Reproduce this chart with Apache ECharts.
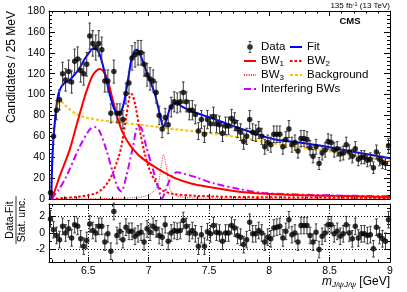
<!DOCTYPE html>
<html><head><meta charset="utf-8">
<script src="https://cdn.jsdelivr.net/npm/echarts@6/dist/echarts.min.js"></script>
<style>html,body{margin:0;padding:0;background:#fff}#c{width:407px;height:292px}</style>
</head><body><div id="c"></div>
<script>
// ---------- data ----------
const binLow = 6.175, binWidth = 0.025, massMax = 9.0;
const counts = [6,60,85,95,120,114,122,112,132,134,
123,120,129,156,149,145,149,143,113,113,
82,122,82,82,76,101,111,135,138,140,
140,129,119,115,113,102,80,67,78,71,
88,93,92,93,102,93,85,85,81,65,
76,62,76,72,79,72,71,63,70,70,
77,74,67,64,55,60,76,64,63,66,
60,50,54,52,62,62,62,50,57,67,
52,54,46,58,58,57,49,41,50,34,
44,47,55,54,47,48,43,44,52,45,
41,48,38,40,40,37,38,30,45,38,
35,34,51];
const countErr = [2.4,7.7,9.2,9.7,11.0,10.7,11.0,10.6,11.5,11.6,
11.1,11.0,11.4,12.5,12.2,12.0,12.2,12.0,10.6,10.6,
9.1,11.0,9.1,9.1,8.7,10.0,10.5,11.6,11.7,11.8,
11.8,11.4,10.9,10.7,10.6,10.1,8.9,8.2,8.8,8.4,
9.4,9.6,9.6,9.6,10.1,9.6,9.2,9.2,9.0,8.1,
8.7,7.9,8.7,8.5,8.9,8.5,8.4,7.9,8.4,8.4,
8.8,8.6,8.2,8.0,7.4,7.7,8.7,8.0,7.9,8.1,
7.7,7.1,7.3,7.2,7.9,7.9,7.9,7.1,7.5,8.2,
7.2,7.3,6.8,7.6,7.6,7.5,7.0,6.4,7.1,5.8,
6.6,6.9,7.4,7.3,6.9,6.9,6.6,6.6,7.2,6.7,
6.4,6.9,6.2,6.3,6.3,6.1,6.2,5.5,6.7,6.2,
5.9,5.8,7.1];
const pulls = [1.7,0.4,-0.3,-0.8,0.8,0,0.5,-0.6,1.0,0.8,
-0.7,-1.6,-0.9,1.1,0.3,0,0.8,0.8,-1.1,-0.1,
-2.2,2.6,-0.3,0.2,-0.8,0.7,0.2,0.2,-0.4,-0.1,
0.1,-1.1,0.5,0.1,0.8,0.5,-0.3,-0.5,1.0,-1.0,
0,0.3,0.2,0.3,1.5,0.8,0,0.3,-0.1,-1.6,
-0.2,-1.6,0.15,-0.1,0.9,0.1,0,-1.0,0,0,
0.9,0.6,-0.3,-0.5,-1.4,-0.8,1.3,-0.1,-0.1,0.3,
0,-1.1,-0.5,-0.7,0.6,0.7,0.8,-0.6,0.2,1.6,
-0.2,0,-1.1,0.9,0.9,0.9,-0.3,-1.1,0.1,-2.0,
-0.4,0,1.0,1.0,-0.1,0.2,-0.4,-0.1,1.0,0,
-0.7,0.8,-0.6,-0.1,-0.1,-0.3,-0.2,-1.9,0.7,-0.3,
-0.7,-1.0,1.6];
const pullUnc = 1;

const fitCurve = [[6.194,0],[6.198,22],[6.204,42],[6.212,58],[6.222,72],[6.232,84],[6.245,96],[6.26,103],[6.28,108],[6.305,111],[6.346,114],[6.387,119],[6.429,125.5],[6.47,134],[6.506,140],[6.534,143.5],[6.561,143.5],[6.589,140],[6.617,130],[6.65,114],[6.683,98],[6.718,85.5],[6.747,81.5],[6.774,84],[6.801,95],[6.83,114.5],[6.857,133],[6.884,142],[6.904,143],[6.931,138],[6.967,127],[7.008,114],[7.05,101.5],[7.081,87],[7.103,76],[7.122,69.5],[7.149,76],[7.177,87],[7.205,91],[7.232,92],[7.274,88.7],[7.356,84],[7.495,78.5],[7.633,72.8],[7.771,67],[7.909,61.6],[8.047,57],[8.25,54],[8.5,49.5],[8.75,44],[9.0,39]];
const bw1Curve = [[6.194,0],[6.22,7],[6.263,21.6],[6.346,47],[6.416,76],[6.485,103],[6.54,119],[6.595,124.5],[6.628,122],[6.664,112.6],[6.706,93.5],[6.747,76],[6.788,63],[6.843,52],[6.913,42.4],[6.982,36],[7.065,29.7],[7.22,20],[7.36,14.6],[7.5,11.5],[7.63,9],[7.77,6.7],[8.0,4.8],[8.5,3],[9.0,2]];
const bw2Curve = [[6.194,0],[6.3,1],[6.4,2],[6.5,3.5],[6.567,5.7],[6.62,10],[6.663,16],[6.705,25],[6.745,38],[6.774,50],[6.815,79],[6.843,98],[6.86,100.5],[6.892,88.7],[6.926,66.4],[6.967,44],[7.008,28],[7.064,15.3],[7.105,9],[7.2,5],[7.4,3],[7.7,2],[8.2,1.5],[9.0,1]];
const bw3Curve = [[6.194,0],[6.6,0.4],[6.8,0.8],[6.9,1.5],[6.98,3],[7.03,6],[7.06,10],[7.083,15],[7.103,31],[7.124,42.4],[7.147,31],[7.174,10.5],[7.207,4.5],[7.27,2],[7.4,1],[7.7,0.6],[9.0,0.3]];
const bkgCurve = [[6.194,0],[6.198,22],[6.204,42],[6.212,58],[6.222,72],[6.235,84],[6.25,91],[6.265,93.5],[6.285,92.5],[6.31,89.5],[6.35,85.5],[6.4,81.5],[6.45,79],[6.5,77.5],[6.6,75.5],[6.7,74],[6.8,72.8],[6.9,71.5],[7.0,70],[7.1,68.5],[7.25,66.5],[7.5,63],[7.75,59],[8.0,54],[8.25,49.5],[8.5,45.5],[8.75,41],[9.0,36.5]];
const interfCurve = [[6.194,0],[6.25,8],[6.318,21.6],[6.429,50],[6.511,66.4],[6.553,69],[6.594,64.8],[6.65,47],[6.705,25],[6.747,10.5],[6.774,7.3],[6.815,21.6],[6.871,50],[6.912,69.5],[6.94,68],[6.981,50],[7.037,28],[7.078,12],[7.111,0.5],[7.152,12],[7.194,22.3],[7.235,25.5],[7.3,24],[7.4,20.5],[7.539,15],[7.75,9.6],[7.953,5.7],[8.5,3.5],[9.0,2.5]];

const xMajor = [6.5,7,7.5,8,8.5];
const xLabels = [6.5,7,7.5,8,8.5,9];
const xMinor = [6.2,6.3,6.4,6.6,6.7,6.8,6.9,7.1,7.2,7.3,7.4,7.6,7.7,7.8,7.9,8.1,8.2,8.3,8.4,8.6,8.7,8.8,8.9];
const pullMajor = [-2,0,2];
const pullMinor = [-3,-1,1,3];
const pullGuides = [-2,2];

// ---------- chart ----------
const FONT = 'Liberation Sans, Arial, sans-serif';
const centers = counts.map((_, i) => +(binLow + (i + 0.5) * binWidth).toFixed(4));
const dataPts = counts.map((v, i) => [centers[i], v]);
const dataErr = counts.map((v, i) => [centers[i], v, countErr[i]]);
const pullPts = pulls.map((v, i) => [centers[i], v]);
const pullErr = pulls.map((v, i) => [centers[i], v, pullUnc]);

const black = {color:'#000', width:1};

function xAxes(g, withLabels, majLen, minLen) {
  const base = {type:'value', gridIndex:g, min:binLow, max:massMax, splitLine:{show:false}};
  return [
    Object.assign({}, base, {position:'bottom',
      axisLine:{show:true, onZero:false, lineStyle:black},
      axisTick:{show:true, inside:true, length:majLen, customValues:xMajor, lineStyle:black},
      axisLabel:{show:withLabels, customValues:xLabels, fontSize:10.5, color:'#000', fontFamily:FONT, margin:4,
        formatter: v => String(+v.toFixed(1))}}),
    Object.assign({}, base, {position:'bottom', axisLine:{show:false, onZero:false},
      axisTick:{show:true, inside:true, length:minLen, customValues:xMinor, lineStyle:black},
      axisLabel:{show:false}}),
    Object.assign({}, base, {position:'top', axisLine:{show:true, onZero:false, lineStyle:black},
      axisTick:{show:true, inside:true, length:majLen, customValues:xMajor, lineStyle:black},
      axisLabel:{show:false}}),
    Object.assign({}, base, {position:'top', axisLine:{show:false, onZero:false},
      axisTick:{show:true, inside:true, length:minLen, customValues:xMinor, lineStyle:black},
      axisLabel:{show:false}})
  ];
}

const yAxes = [
  {type:'value', gridIndex:0, position:'left', min:0, max:180, interval:20,
   axisLine:{show:true, onZero:false, lineStyle:black},
   axisTick:{show:true, inside:true, length:6, lineStyle:black},
   minorTick:{show:true, splitNumber:5, length:3, lineStyle:black},
   axisLabel:{fontSize:10.5, color:'#000', fontFamily:FONT, margin:4},
   splitLine:{show:false}},
  {type:'value', gridIndex:0, position:'right', min:0, max:180, interval:20,
   axisLine:{show:true, onZero:false, lineStyle:black},
   axisTick:{show:true, inside:true, length:6, lineStyle:black},
   minorTick:{show:true, splitNumber:5, length:3, lineStyle:black},
   axisLabel:{show:false}, splitLine:{show:false}},
  {type:'value', gridIndex:1, position:'left', min:-3.5, max:3.5,
   axisLine:{show:true, onZero:false, lineStyle:black},
   axisTick:{show:true, inside:true, length:6, customValues:pullMajor, lineStyle:black},
   axisLabel:{customValues:pullMajor, fontSize:10.5, color:'#000', fontFamily:FONT, margin:4},
   splitLine:{show:false}},
  {type:'value', gridIndex:1, position:'left', min:-3.5, max:3.5,
   axisLine:{show:false, onZero:false},
   axisTick:{show:true, inside:true, length:3, customValues:pullMinor, lineStyle:black},
   axisLabel:{show:false}, splitLine:{show:false}},
  {type:'value', gridIndex:1, position:'right', min:-3.5, max:3.5,
   axisLine:{show:true, onZero:false, lineStyle:black},
   axisTick:{show:true, inside:true, length:6, customValues:pullMajor, lineStyle:black},
   axisLabel:{show:false}, splitLine:{show:false}},
  {type:'value', gridIndex:1, position:'right', min:-3.5, max:3.5,
   axisLine:{show:false, onZero:false},
   axisTick:{show:true, inside:true, length:3, customValues:pullMinor, lineStyle:black},
   axisLabel:{show:false}, splitLine:{show:false}}
];

function curve(name, data, color, width, type, z) {
  return {type:'line', name, data, xAxisIndex:0, yAxisIndex:0, showSymbol:false, symbol:'none',
    smooth:0.3, clip:true, silent:true, z,
    lineStyle:{color, width, type}, itemStyle:{color}};
}

function errBars(xi, yi, data, cap) {
  return {type:'custom', xAxisIndex:xi, yAxisIndex:yi, data, silent:true, z:4,
    renderItem(params, api) {
      const x = api.value(0), y = api.value(1), e = api.value(2);
      const a = api.coord([x, y + e]), b = api.coord([x, y - e]);
      const st = {stroke:'#3a3a3a', lineWidth:1};
      return {type:'group', children:[
        {type:'line', shape:{x1:a[0], y1:a[1], x2:b[0], y2:b[1]}, style:st},
        {type:'line', shape:{x1:a[0]-cap, y1:a[1], x2:a[0]+cap, y2:a[1]}, style:st},
        {type:'line', shape:{x1:b[0]-cap, y1:b[1], x2:b[0]+cap, y2:b[1]}, style:st}
      ]};
    }};
}

const legendText = {fontSize:11.5, fontFamily:FONT, color:'#000', lineHeight:14,
  rich:{s:{fontSize:8, fontFamily:FONT, lineHeight:6, verticalAlign:'bottom', color:'#000'}}};
const legendFmt = n => n.replace(/BW(\d)/, 'BW{s|$1}');
const dataIcon = 'path://M2.6,0H3.4V3.3H2.6Z M1.6,0H4.4V0.7H1.6Z M2.6,8.7H3.4V12H2.6Z M1.6,11.3H4.4V12H1.6Z M0.2,6A2.8,2.8,0,1,1,5.8,6A2.8,2.8,0,1,1,0.2,6Z';
const lineItem = name => ({name, itemStyle:{opacity:0}});

const option = {
  animation:false,
  backgroundColor:'#fff',
  grid:[{left:49, right:17, top:11, height:188}, {left:49, right:17, top:204, height:58}],
  xAxis:[...xAxes(0, false, 5, 2.5), ...xAxes(1, true, 5, 2.5)],
  yAxis:yAxes,
  legend:[
    {left:243, top:40, padding:0, orient:'vertical', itemWidth:12, itemHeight:12, itemGap:0, selectedMode:false,
     formatter:legendFmt, textStyle:legendText,
     data:[{name:'Data', icon:dataIcon}, lineItem('BW1'), lineItem('BW3'), lineItem('Interfering BWs')]},
    {left:289, top:40, padding:0, orient:'vertical', itemWidth:12, itemHeight:12, itemGap:0, selectedMode:false,
     formatter:legendFmt, textStyle:legendText,
     data:[lineItem('Fit'), lineItem('BW2'), lineItem('Background')]}
  ],
  series:[
    curve('Background', bkgCurve, '#ffbf00', 2, [3,2], 2),
    curve('BW3', bw3Curve, '#ff3030', 1, [1,1.3], 2),
    curve('BW2', bw2Curve, '#ff0000', 2, [2.5,2], 2),
    curve('Interfering BWs', interfCurve, '#cc00ff', 2, [7,3,2,3], 2),
    curve('BW1', bw1Curve, '#ff0000', 2, 'solid', 2),
    curve('Fit', fitCurve, '#0000ff', 2, 'solid', 3),
    errBars(0, 0, dataErr, 1.3),
    {type:'scatter', name:'Data', data:dataPts, xAxisIndex:0, yAxisIndex:0, symbol:'circle',
     symbolSize:5.5, itemStyle:{color:'#000'}, silent:true, z:5},
    errBars(4, 2, pullErr, 1.3),
    {type:'scatter', name:'Pull', data:pullPts, xAxisIndex:4, yAxisIndex:2, symbol:'circle',
     symbolSize:5.5, itemStyle:{color:'#000'}, silent:true, z:5,
     markLine:{silent:true, symbol:['none','none'], label:{show:false}, animation:false,
       lineStyle:{color:'#000', width:1, type:[1,2]},
       data:[...pullGuides.map(v => ({yAxis:v})), ...xMajor.map(v => ({xAxis:v}))]}}
  ],
  graphic:[
    {type:'text', x:390, y:6, silent:true, style:{text:'135 fb{sup|-1} (13 TeV)', align:'right', textAlign:'right',
      verticalAlign:'middle', textVerticalAlign:'middle', fontSize:8, fontFamily:FONT, fill:'#000', lineHeight:10,
      rich:{sup:{fontSize:5.5, fontFamily:FONT, verticalAlign:'top', lineHeight:5, fill:'#000'}}}},
    {type:'text', x:350, y:21.5, silent:true, style:{text:'CMS', align:'center', textAlign:'center',
      verticalAlign:'middle', textVerticalAlign:'middle', fontSize:9.5, fontWeight:'bold', fontFamily:FONT, fill:'#000'}},
    {type:'text', x:11.5, y:11, rotation:Math.PI/2, silent:true, style:{text:'Candidates / 25 MeV', align:'right', textAlign:'right',
      verticalAlign:'middle', textVerticalAlign:'middle', fontSize:12, fontFamily:FONT, fill:'#000'}},
    {type:'text', x:10, y:220, rotation:Math.PI/2, silent:true, style:{text:'Data-Fit', align:'center', textAlign:'center',
      verticalAlign:'middle', textVerticalAlign:'middle', fontSize:10.5, fontFamily:FONT, fill:'#000'}},
    {type:'line', silent:true, shape:{x1:16, y1:196, x2:16, y2:244}, style:{stroke:'#000', lineWidth:0.8}},
    {type:'text', x:22, y:220, rotation:Math.PI/2, silent:true, style:{text:'Stat. unc.', align:'center', textAlign:'center',
      verticalAlign:'middle', textVerticalAlign:'middle', fontSize:10.5, fontFamily:FONT, fill:'#000'}},
    {type:'text', x:390, y:282, silent:true, style:{text:'{m|m}{s|J/ψJ/ψ}{n| [GeV]}', align:'right', textAlign:'right',
      verticalAlign:'middle', textVerticalAlign:'middle', fontSize:12, fontFamily:FONT, fill:'#000', lineHeight:14,
      rich:{m:{fontSize:12, fontStyle:'italic', fontFamily:FONT, fill:'#000', lineHeight:14},
            s:{fontSize:8, fontStyle:'italic', fontFamily:FONT, fill:'#000', lineHeight:6, verticalAlign:'bottom'},
            n:{fontSize:12, fontFamily:FONT, fill:'#000', lineHeight:14}}}}
  ]
};
const chart = echarts.init(document.getElementById('c'));
chart.setOption(option);
</script></body></html>
